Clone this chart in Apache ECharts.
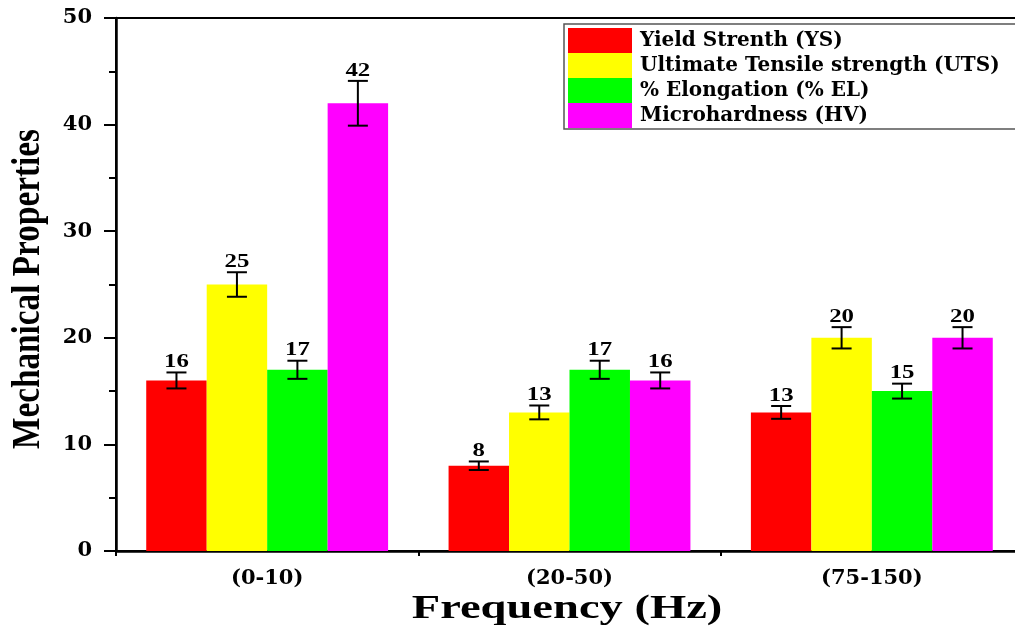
<!DOCTYPE html>
<html>
<head>
<meta charset="utf-8">
<script src="https://cdn.jsdelivr.net/npm/echarts@6/dist/echarts.min.js"></script>
<style>html,body{margin:0;padding:0;background:#fff;}#c{width:1015px;height:628px;}</style>
</head>
<body>
<div id="c"></div>
<script>
const categories = ['(0-10)', '(20-50)', '(75-150)'];
const seriesNames = ['Yield Strenth (YS)', 'Ultimate Tensile strength (UTS)', '% Elongation (% EL)', 'Microhardness (HV)'];
const ysValues = [16, 8, 13];
const utsValues = [25, 13, 20];
const elValues = [17, 17, 15];
const hvValues = [42, 16, 20];
const ysErr = [0.75, 0.4, 0.6];
const utsErr = [1.15, 0.65, 1.0];
const elErr = [0.85, 0.85, 0.7];
const hvErr = [2.1, 0.75, 1.0];
const yTicks = [0, 10, 20, 30, 40, 50];
const colors = ['#ff0000', '#ffff00', '#00ff00', '#ff00ff'];

const values = [ysValues, utsValues, elValues, hvValues];
const errs = [ysErr, utsErr, elErr, hvErr];
const SERIF = '"Liberation Serif", "Times New Roman", serif';
const WIDE = '"DejaVu Serif", serif';

const chart = echarts.init(document.getElementById('c'), null, {renderer: 'canvas'});

const barSeries = values.map((vals, k) => ({
  name: seriesNames[k],
  type: 'bar',
  xAxisIndex: 0,
  yAxisIndex: 0,
  data: vals,
  barWidth: '20%',
  barGap: '0%',
  itemStyle: {color: colors[k]},
  z: 2
}));

const errSeries = values.map((vals, k) => ({
  name: 'err' + k,
  type: 'custom',
  xAxisIndex: 0,
  yAxisIndex: 0,
  z: 5,
  data: vals.map((v, i) => [i, v, errs[k][i]]),
  renderItem: function (params, api) {
    const ci = api.value(0), v = api.value(1), e = api.value(2);
    const c = api.coord([ci, v]);
    const bw = api.size([1, 0])[0] * 0.2;
    const x = c[0] + (k - 1.5) * bw;
    const top = api.coord([ci, v + e])[1];
    const bot = api.coord([ci, v - e])[1];
    const hw = 10;
    const ls = {stroke: '#000', lineWidth: 2};
    return {
      type: 'group',
      children: [
        {type: 'line', shape: {x1: x, y1: top, x2: x, y2: bot}, style: ls},
        {type: 'line', shape: {x1: x - hw, y1: top, x2: x + hw, y2: top}, style: ls},
        {type: 'line', shape: {x1: x - hw, y1: bot, x2: x + hw, y2: bot}, style: ls},
        {type: 'text', x: x, y: top - 1, scaleX: 1.38, style: {
          text: String(v), fill: '#000', font: 'bold 18px ' + SERIF,
          align: 'center', verticalAlign: 'bottom'
        }}
      ]
    };
  }
}));

const option = {
  backgroundColor: '#fff',
  animation: false,
  grid: {
    left: 116, top: 18, width: 907, bottom: 77,
    outerBoundsMode: 'none',
    containLabel: false,
    show: true, borderColor: '#000', borderWidth: 2, backgroundColor: 'transparent'
  },
  legend: {
    data: seriesNames,
    orient: 'vertical',
    left: 564, top: 24,
    padding: [4, 60, 1, 4],
    itemWidth: 64, itemHeight: 25, itemGap: 0,
    icon: 'rect',
    borderColor: '#555', borderWidth: 1.5,
    selectedMode: false,
    textStyle: {fontFamily: WIDE, fontWeight: 'bold', fontSize: 20, color: '#000', padding: [0, 0, 0, 3]}
  },
  xAxis: [
    {
      type: 'category', data: categories, position: 'bottom',
      axisLine: {lineStyle: {color: '#000', width: 2.5}},
      axisTick: {alignWithLabel: true, length: 10, lineStyle: {color: '#000', width: 2.5}},
      axisLabel: {color: '#000', fontFamily: WIDE, fontWeight: 'bold', fontSize: 21, margin: 17},
      splitLine: {show: false}
    },
    {
      type: 'value', min: 0, max: 3, interval: 1, position: 'bottom',
      axisLine: {show: false},
      axisTick: {show: true, length: 5, lineStyle: {color: '#000', width: 2}},
      axisLabel: {show: false},
      splitLine: {show: false}
    }
  ],
  yAxis: {
    type: 'value', min: 0, max: 50, interval: 10,
    axisLine: {show: true, lineStyle: {color: '#000', width: 2.5}},
    axisTick: {show: true, length: 12, lineStyle: {color: '#000', width: 2}},
    minorTick: {show: true, splitNumber: 2, length: 7, lineStyle: {color: '#000', width: 2}},
    axisLabel: {color: '#000', fontFamily: WIDE, fontWeight: 'bold', fontSize: 21, margin: 24,
      formatter: function (v) { return yTicks.indexOf(v) >= 0 ? String(v) : ''; }},
    splitLine: {show: false}
  },
  graphic: [
    {type: 'text', x: 567, y: 609, scaleX: 1.41, style: {
      text: 'Frequency (Hz)', fill: '#000', font: 'bold 33px ' + SERIF,
      align: 'center', verticalAlign: 'middle'}},
    {type: 'text', x: 29, y: 289, rotation: Math.PI / 2, scaleX: 0.853, style: {
      text: 'Mechanical Properties', fill: '#000', font: 'bold 39px ' + SERIF,
      align: 'center', verticalAlign: 'middle'}}
  ],
  series: barSeries.concat(errSeries)
};
chart.setOption(option);
</script>
</body>
</html>
